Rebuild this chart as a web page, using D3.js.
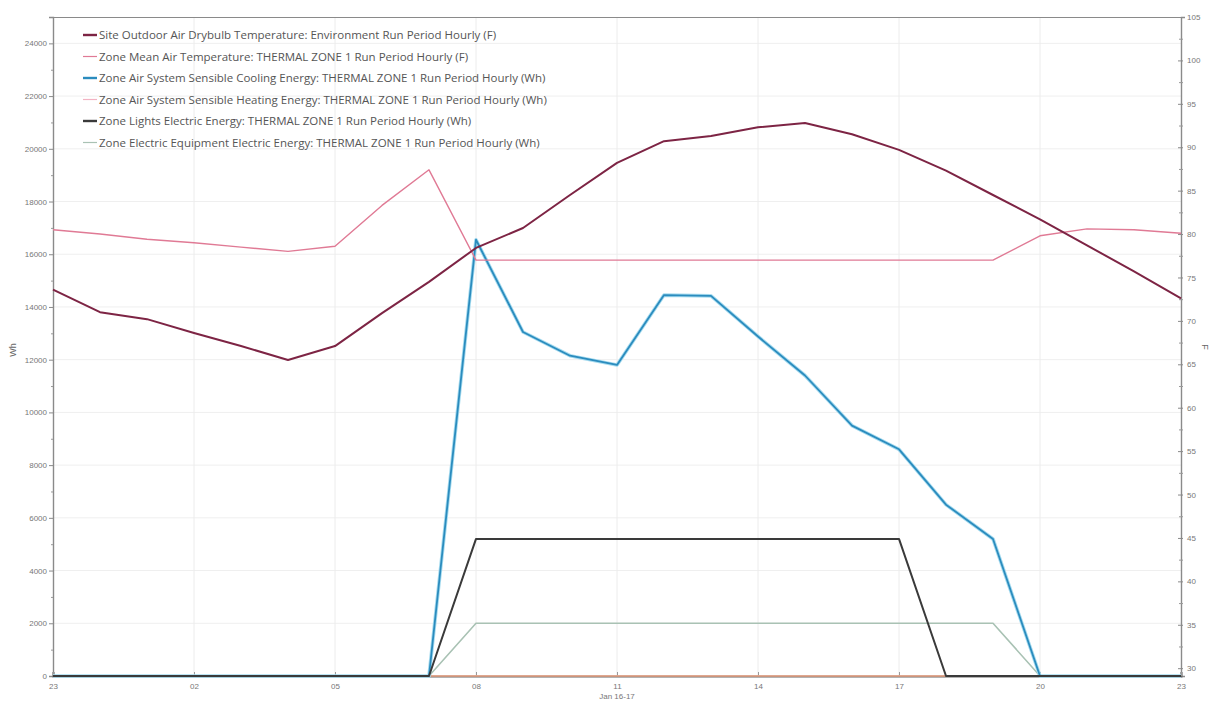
<!DOCTYPE html>
<html>
<head>
<meta charset="utf-8">
<script src="https://cdn.jsdelivr.net/npm/d3@7"></script>
<style>
  html, body { margin: 0; padding: 0; background: #fff; }
  svg { display: block; font-family: "Liberation Sans", Arial, sans-serif; }
</style>
</head>
<body>
<svg id="chart" width="1213" height="703"></svg>
<script>
// Hour offsets from the first timestamp (23:00) across one day
const hourIndex = [0,1,2,3,4,5,6,7,8,9,10,11,12,13,14,15,16,17,18,19,20,21,22,23,24];

// Temperatures (F) — right axis
const outdoorTemp = [73.6,71.0,70.2,68.6,67.1,65.5,67.1,70.9,74.5,78.4,80.7,84.5,88.2,90.7,91.3,92.3,92.8,91.5,89.7,87.3,84.5,81.7,78.7,75.7,72.6];
const zoneMeanTemp = [80.5,80.0,79.4,79.0,78.5,78.0,78.6,83.3,87.4,77.0,77.0,77.0,77.0,77.0,77.0,77.0,77.0,77.0,77.0,77.0,77.0,79.8,80.6,80.5,80.1];

// Energies (Wh) — left axis
const coolingEnergy = [0,0,0,0,0,0,0,0,0,16550,13050,12150,11800,14450,14420,12880,11400,9500,8600,6500,5200,0,0,0,0];
const heatingEnergy = [0,0,0,0,0,0,0,0,0,0,0,0,0,0,0,0,0,0,0,0,0,0,0,0,0];
const lightsEnergy = [0,0,0,0,0,0,0,0,0,5200,5200,5200,5200,5200,5200,5200,5200,5200,5200,0,0,0,0,0,0];
const equipmentEnergy = [0,0,0,0,0,0,0,0,0,2000,2000,2000,2000,2000,2000,2000,2000,2000,2000,2000,2000,0,0,0,0];

// Axis ticks
const xTickHours = [0,3,6,9,12,15,18,21,24];
const xTickLabels = ["23","02","05","08","11","14","17","20","23"];
const leftTicks = [0,2000,4000,6000,8000,10000,12000,14000,16000,18000,20000,22000,24000];
const rightTicks = [30,35,40,45,50,55,60,65,70,75,80,85,90,95,100,105];

const legendLabels = [
  "Site Outdoor Air Drybulb Temperature: Environment Run Period Hourly (F)",
  "Zone Mean Air Temperature: THERMAL ZONE 1 Run Period Hourly (F)",
  "Zone Air System Sensible Cooling Energy: THERMAL ZONE 1 Run Period Hourly (Wh)",
  "Zone Air System Sensible Heating Energy: THERMAL ZONE 1 Run Period Hourly (Wh)",
  "Zone Lights Electric Energy: THERMAL ZONE 1 Run Period Hourly (Wh)",
  "Zone Electric Equipment Electric Energy: THERMAL ZONE 1 Run Period Hourly (Wh)"
];

const svg = d3.select("#chart");
const L = 53, R = 1181, T = 17, B = 676;

const x = d3.scaleLinear().domain([0, 24]).range([L, R]);
const yLeft = d3.scaleLinear().domain([0, 25000]).range([B, T]);
const yRight = d3.scaleLinear().domain([29.1, 105]).range([B, T]);

// Gridlines
const grid = svg.append("g");
grid.selectAll("line.h").data(leftTicks.slice(1)).join("line")
  .attr("x1", L).attr("x2", R)
  .attr("y1", d => yLeft(d)).attr("y2", d => yLeft(d))
  .attr("stroke", "#efefef").attr("stroke-width", 1);
grid.selectAll("line.v").data(xTickHours.slice(1, -1)).join("line")
  .attr("x1", d => x(d)).attr("x2", d => x(d))
  .attr("y1", T).attr("y2", B)
  .attr("stroke", "#ececec").attr("stroke-width", 1);

// Frame top
svg.append("line").attr("x1", L).attr("x2", R).attr("y1", T + 0.5).attr("y2", T + 0.5)
  .attr("stroke", "#8a8a8a").attr("stroke-width", 1.2);

// Left axis
const leftAxis = d3.axisLeft(yLeft).tickValues(leftTicks).tickSize(4).tickPadding(2)
  .tickFormat(d3.format("d"));
const gL = svg.append("g").attr("transform", `translate(${L},0)`).call(leftAxis);
gL.select(".domain").attr("stroke", "#8a8a8a").attr("stroke-width", 1.4);
gL.selectAll(".tick line").attr("stroke", "#8a8a8a");
gL.selectAll(".tick text").attr("fill", "#777").style("font-size", "8px");
svg.append("g").attr("transform", `translate(${L},0)`)
  .call(d3.axisLeft(yLeft).tickValues(d3.range(1000, 25000, 2000)).tickSize(2).tickFormat(""))
  .call(g => g.select(".domain").remove())
  .selectAll("line").attr("stroke", "#999");

// Right axis
const rightAxis = d3.axisRight(yRight).tickValues(rightTicks).tickSize(4).tickPadding(2)
  .tickFormat(d3.format("d"));
const gR = svg.append("g").attr("transform", `translate(${R},0)`).call(rightAxis);
gR.select(".domain").attr("stroke", "#8a8a8a").attr("stroke-width", 1.4);
gR.selectAll(".tick line").attr("stroke", "#8a8a8a").attr("x1", -3).attr("x2", 2);
gR.selectAll(".tick text").attr("fill", "#777").style("font-size", "8px");
svg.append("g").attr("transform", `translate(${R},0)`)
  .call(d3.axisRight(yRight).tickValues(d3.range(32.5, 105, 5)).tickSize(2).tickFormat(""))
  .call(g => g.select(".domain").remove())
  .selectAll("line").attr("stroke", "#999").attr("x1", -2);

// Bottom axis
const bottomAxis = d3.axisBottom(x).tickValues(xTickHours).tickSize(-4).tickPadding(7)
  .tickFormat((d, i) => xTickLabels[i]);
const gB = svg.append("g").attr("transform", `translate(0,${B})`).call(bottomAxis);
gB.select(".domain").attr("stroke", "#666").attr("stroke-width", 2);
gB.selectAll(".tick line").attr("stroke", "#999");
gB.selectAll(".tick text").attr("fill", "#777").style("font-size", "8px");
svg.append("text").attr("x", x(12)).attr("y", 699).attr("text-anchor", "middle")
  .attr("fill", "#777").style("font-size", "8px").text("Jan 16-17");

// Axis titles
svg.append("text").attr("transform", "translate(16,350) rotate(-90)").attr("text-anchor", "middle")
  .attr("fill", "#666").style("font-size", "9px").text("Wh");
svg.append("text").attr("transform", "translate(1202,347) rotate(90)").attr("text-anchor", "middle")
  .attr("fill", "#666").style("font-size", "9px").text("F");

// Series
const series = [
  { values: heatingEnergy, scale: yLeft, color: "#eea585", width: 1.6 },
  { values: equipmentEnergy, scale: yLeft, color: "#a9c2b4", width: 1.6 },
  { values: coolingEnergy, scale: yLeft, color: "#a6dbef", width: 3.6 },
  { values: coolingEnergy, scale: yLeft, color: "#2b8cbe", width: 1.8 },
  { values: lightsEnergy, scale: yLeft, color: "#3a3a3a", width: 2 },
  { values: zoneMeanTemp, scale: yRight, color: "#e07a95", width: 1.4 },
  { values: outdoorTemp, scale: yRight, color: "#7d2444", width: 2 }
];
const plot = svg.append("g");
series.forEach(s => {
  const line = d3.line().x((d, i) => x(hourIndex[i])).y(d => s.scale(d));
  plot.append("path").datum(s.values)
    .attr("d", line).attr("fill", "none")
    .attr("stroke", s.color).attr("stroke-width", s.width)
    .attr("stroke-linejoin", "round");
});

// Legend
const legendStyles = [
  { color: "#7d2444", width: 2.4 },
  { color: "#e07a95", width: 1.2 },
  { color: "#2b8cbe", width: 2.4 },
  { color: "#f2b3c3", width: 1.2 },
  { color: "#3a3a3a", width: 2.4 },
  { color: "#a9c2b4", width: 1.2 }
];
const legend = svg.append("g");
legendLabels.forEach((label, i) => {
  const yy = 35 + i * 21.5;
  legend.append("line").attr("x1", 83).attr("x2", 97).attr("y1", yy).attr("y2", yy)
    .attr("stroke", legendStyles[i].color).attr("stroke-width", legendStyles[i].width);
  legend.append("text").attr("x", 99).attr("y", yy + 4)
    .attr("fill", "#555").style("font-family", "'Open Sans', sans-serif")
    .style("font-size", "11.5px").text(label);
});
</script>
</body>
</html>
